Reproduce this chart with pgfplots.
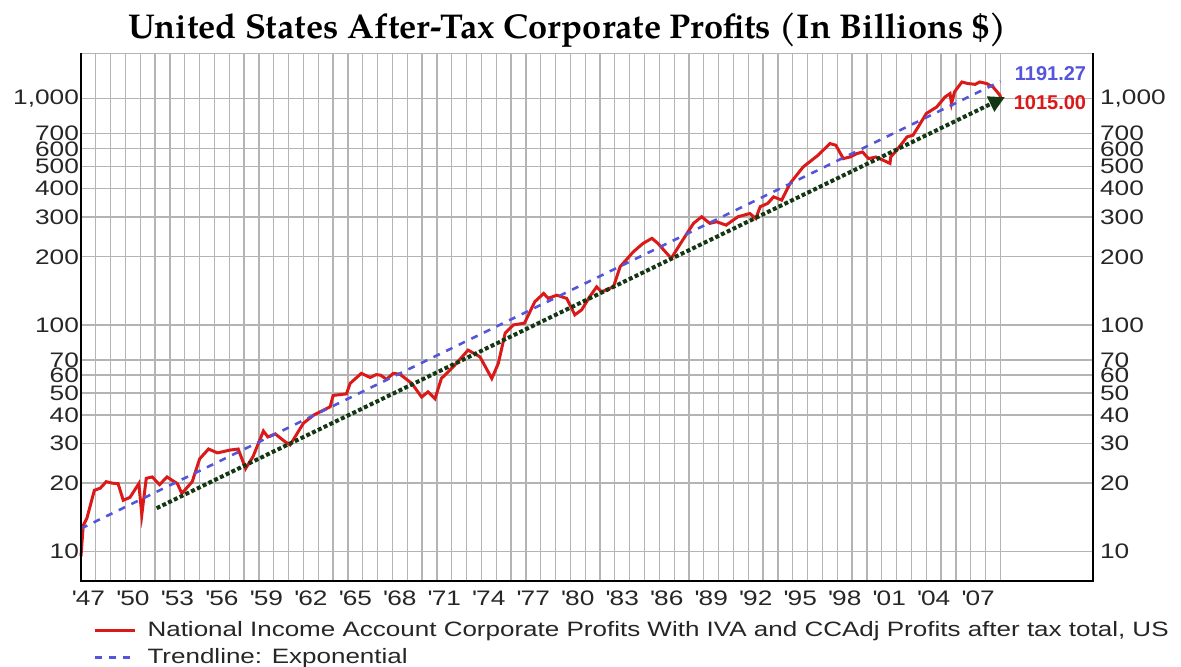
\documentclass[border=0pt]{standalone}
\usepackage{fontspec}
\setmainfont{Liberation Sans}[FakeStretch=1.25]
\newfontfamily\annotfont{Liberation Sans}
\newfontfamily\titlefont{TeX Gyre Pagella}
\usepackage{pgfplots}
\pgfplotsset{compat=1.18}
\usetikzlibrary{arrows.meta}
\definecolor{profitred}{RGB}{220,25,25}
\definecolor{trendblue}{RGB}{85,85,220}
\definecolor{arrowgreen}{RGB}{18,55,18}
\definecolor{gridgray}{RGB}{180,180,180}
\newcommand{\q}{\textquotesingle}
\begin{document}
\begin{tikzpicture}
\useasboundingbox (0,0) rectangle (590.5pt,333pt);
\node[font=\titlefont\bfseries\fontsize{17.2}{20}\selectfont] at (283.75pt,318pt) {United States After-Tax Corporate Profits (In Billions \$)};
\begin{axis}[
  at={(40.5pt,42.5pt)}, anchor=south west,
  scale only axis, width=506pt, height=263.85pt,
  xmin=1947, xmax=2015.24,
  ymode=log, ymin=7.39, ymax=1585,
  ytick={10,20,30,40,50,60,70,100,200,300,400,500,600,700,1000},
  yticklabels={10,20,30,40,50,60,70,100,200,300,400,500,600,700,{1,000}},
  major tick length=0pt, minor tick length=0pt,
  tick label style={font=\fontsize{10.5}{12}\selectfont, text=black!85},
  yticklabel style={xshift=2.5pt},
  clip=false,
  axis line style={draw=none},
  xtick={1947.5,1950.5,1953.5,1956.5,1959.5,1962.5,1965.5,1968.5,1971.5,1974.5,1977.5,1980.5,1983.5,1986.5,1989.5,1992.5,1995.5,1998.5,2001.5,2004.5,2007.5},
  xticklabels={\q47,\q50,\q53,\q56,\q59,\q62,\q65,\q68,\q71,\q74,\q77,\q80,\q83,\q86,\q89,\q92,\q95,\q98,\q01,\q04,\q07},
  minor xtick={1948,1949,...,2009},
  xminorgrids=true, xmajorgrids=false, ymajorgrids=true,
  grid style={gridgray, line width=0.65pt},
  minor grid style={gridgray, line width=0.65pt},
  xticklabel style={yshift=-1.5pt},
  legend style={at={(axis description cs:0.012,-0.068)}, anchor=north west, draw=none, fill=none,
    font=\fontsize{10.4}{11.5}\selectfont, row sep=0.5pt, inner sep=0pt, text=black!85},
  legend cell align=left,
  legend image code/.code={\draw[#1] (0pt,0pt) -- (20pt,0pt); \path (23.5pt,0pt);},
]
\addplot[profitred, line width=1.5pt] coordinates {
(1947.0,9.5) (1947.15,13.0) (1947.4,14.0) (1947.9,18.6) (1948.3,19.0) (1948.7,20.3)
(1949.1,20.0) (1949.5,19.9) (1949.85,16.8) (1950.3,17.3) (1950.9,19.9) (1951.1,14.5)
(1951.4,21.0) (1951.8,21.3) (1952.3,19.7) (1952.8,21.3) (1953.5,19.9) (1953.8,18.0)
(1954.5,20.3) (1955.0,25.6) (1955.6,28.3) (1956.2,27.2) (1957.05,28.0) (1957.6,28.3)
(1958.1,23.2) (1958.6,26.2) (1959.3,34.0) (1959.6,32.0) (1960.1,33.0) (1960.75,30.5)
(1961.1,29.5) (1962.0,36.8) (1962.7,40.0) (1963.8,43.5) (1964.0,48.8) (1964.9,49.6)
(1965.15,55.2) (1965.9,61.1) (1966.5,58.6) (1966.9,60.3) (1967.2,60.0) (1967.6,57.5)
(1968.06,61.1) (1968.5,60.6) (1969.3,55.2) (1969.97,48.0) (1970.4,50.6) (1970.87,47.2)
(1971.3,58.0) (1972.1,65.3) (1973.1,77.4) (1973.9,72.3) (1974.7,58.0) (1975.14,67.6)
(1975.6,91.9) (1976.15,100) (1976.9,101.8) (1977.6,126.6) (1978.2,137.8) (1978.5,131.1)
(1979.08,135.3) (1979.75,131) (1980.3,110.8) (1980.76,116.6) (1981.3,133.2) (1981.77,147.3)
(1982.1,140.0) (1982.9,147.3) (1983.35,180.6) (1984.25,210.6) (1984.9,229.2) (1985.5,241.3)
(1985.9,229.2) (1986.8,196.9) (1987.5,233) (1988.3,281) (1988.85,300.5) (1989.4,281)
(1989.86,285.6) (1990.5,276) (1991.3,300.5) (1992.1,310.6) (1992.5,295.3) (1992.8,333)
(1993.3,344) (1993.7,368) (1994.25,356) (1994.8,421) (1995.7,499) (1996.7,562)
(1997.5,633) (1997.9,622) (1998.4,543) (1998.85,552) (1999.3,571) (1999.7,581)
(2000.1,543) (2000.6,552) (2001.1,534) (2001.55,517) (2001.6,552) (2002.0,591)
(2002.7,677) (2003.1,689) (2003.45,749) (2004.0,859) (2004.7,918) (2005.26,1016)
(2005.6,1052) (2005.7,950) (2005.9,1070) (2006.4,1184) (2006.8,1165) (2007.3,1156)
(2007.6,1184) (2008.07,1165) (2008.5,1125) (2008.97,1034) (2009.0,1015)
};
\addlegendentry{National Income Account Corporate Profits With IVA and CCAdj Profits after tax total, US}
\addplot[trendblue, line width=1.3pt, dash pattern=on 3.5pt off 3.5pt] coordinates {(1947,12.6) (2009,1191.27)};
\addlegendentry{Trendline: Exponential}
\addplot[forget plot, arrowgreen, line width=2pt, dash pattern=on 2pt off 1.2pt, -{Triangle[length=8pt,width=8pt]}] coordinates {(1952.1,15.5) (2009.3,1015)};
\node[anchor=east, text=trendblue, font=\annotfont\bfseries\fontsize{10}{12}\selectfont, inner sep=0pt] at (axis cs:2014.8,1293) {1191.27};
\node[anchor=east, text=profitred, font=\annotfont\bfseries\fontsize{10}{12}\selectfont, inner sep=0pt] at (axis cs:2014.8,963) {1015.00};
\draw[gridgray, line width=0.8pt] (rel axis cs:0,1) -- (rel axis cs:1,1);
\draw[black, line width=1pt] (rel axis cs:0,1) -- (rel axis cs:0,0) -- (rel axis cs:1,0) -- (rel axis cs:1,1);
\end{axis}
\begin{axis}[
  at={(40.5pt,42.5pt)}, anchor=south west,
  scale only axis, width=506pt, height=263.85pt,
  xmin=1947, xmax=2015.24,
  ymode=log, ymin=7.39, ymax=1585,
  ytick={10,20,30,40,50,60,70,100,200,300,400,500,600,700,1000},
  yticklabels={10,20,30,40,50,60,70,100,200,300,400,500,600,700,{1,000}},
  major tick length=0pt, minor tick length=0pt,
  tick label style={font=\fontsize{10.5}{12}\selectfont, text=black!85},
  axis line style={draw=none},
  xtick=\empty,
  yticklabel pos=right,
]
\addplot[draw=none] coordinates {(1950,100) (1960,200)};
\end{axis}
\end{tikzpicture}
\end{document}
